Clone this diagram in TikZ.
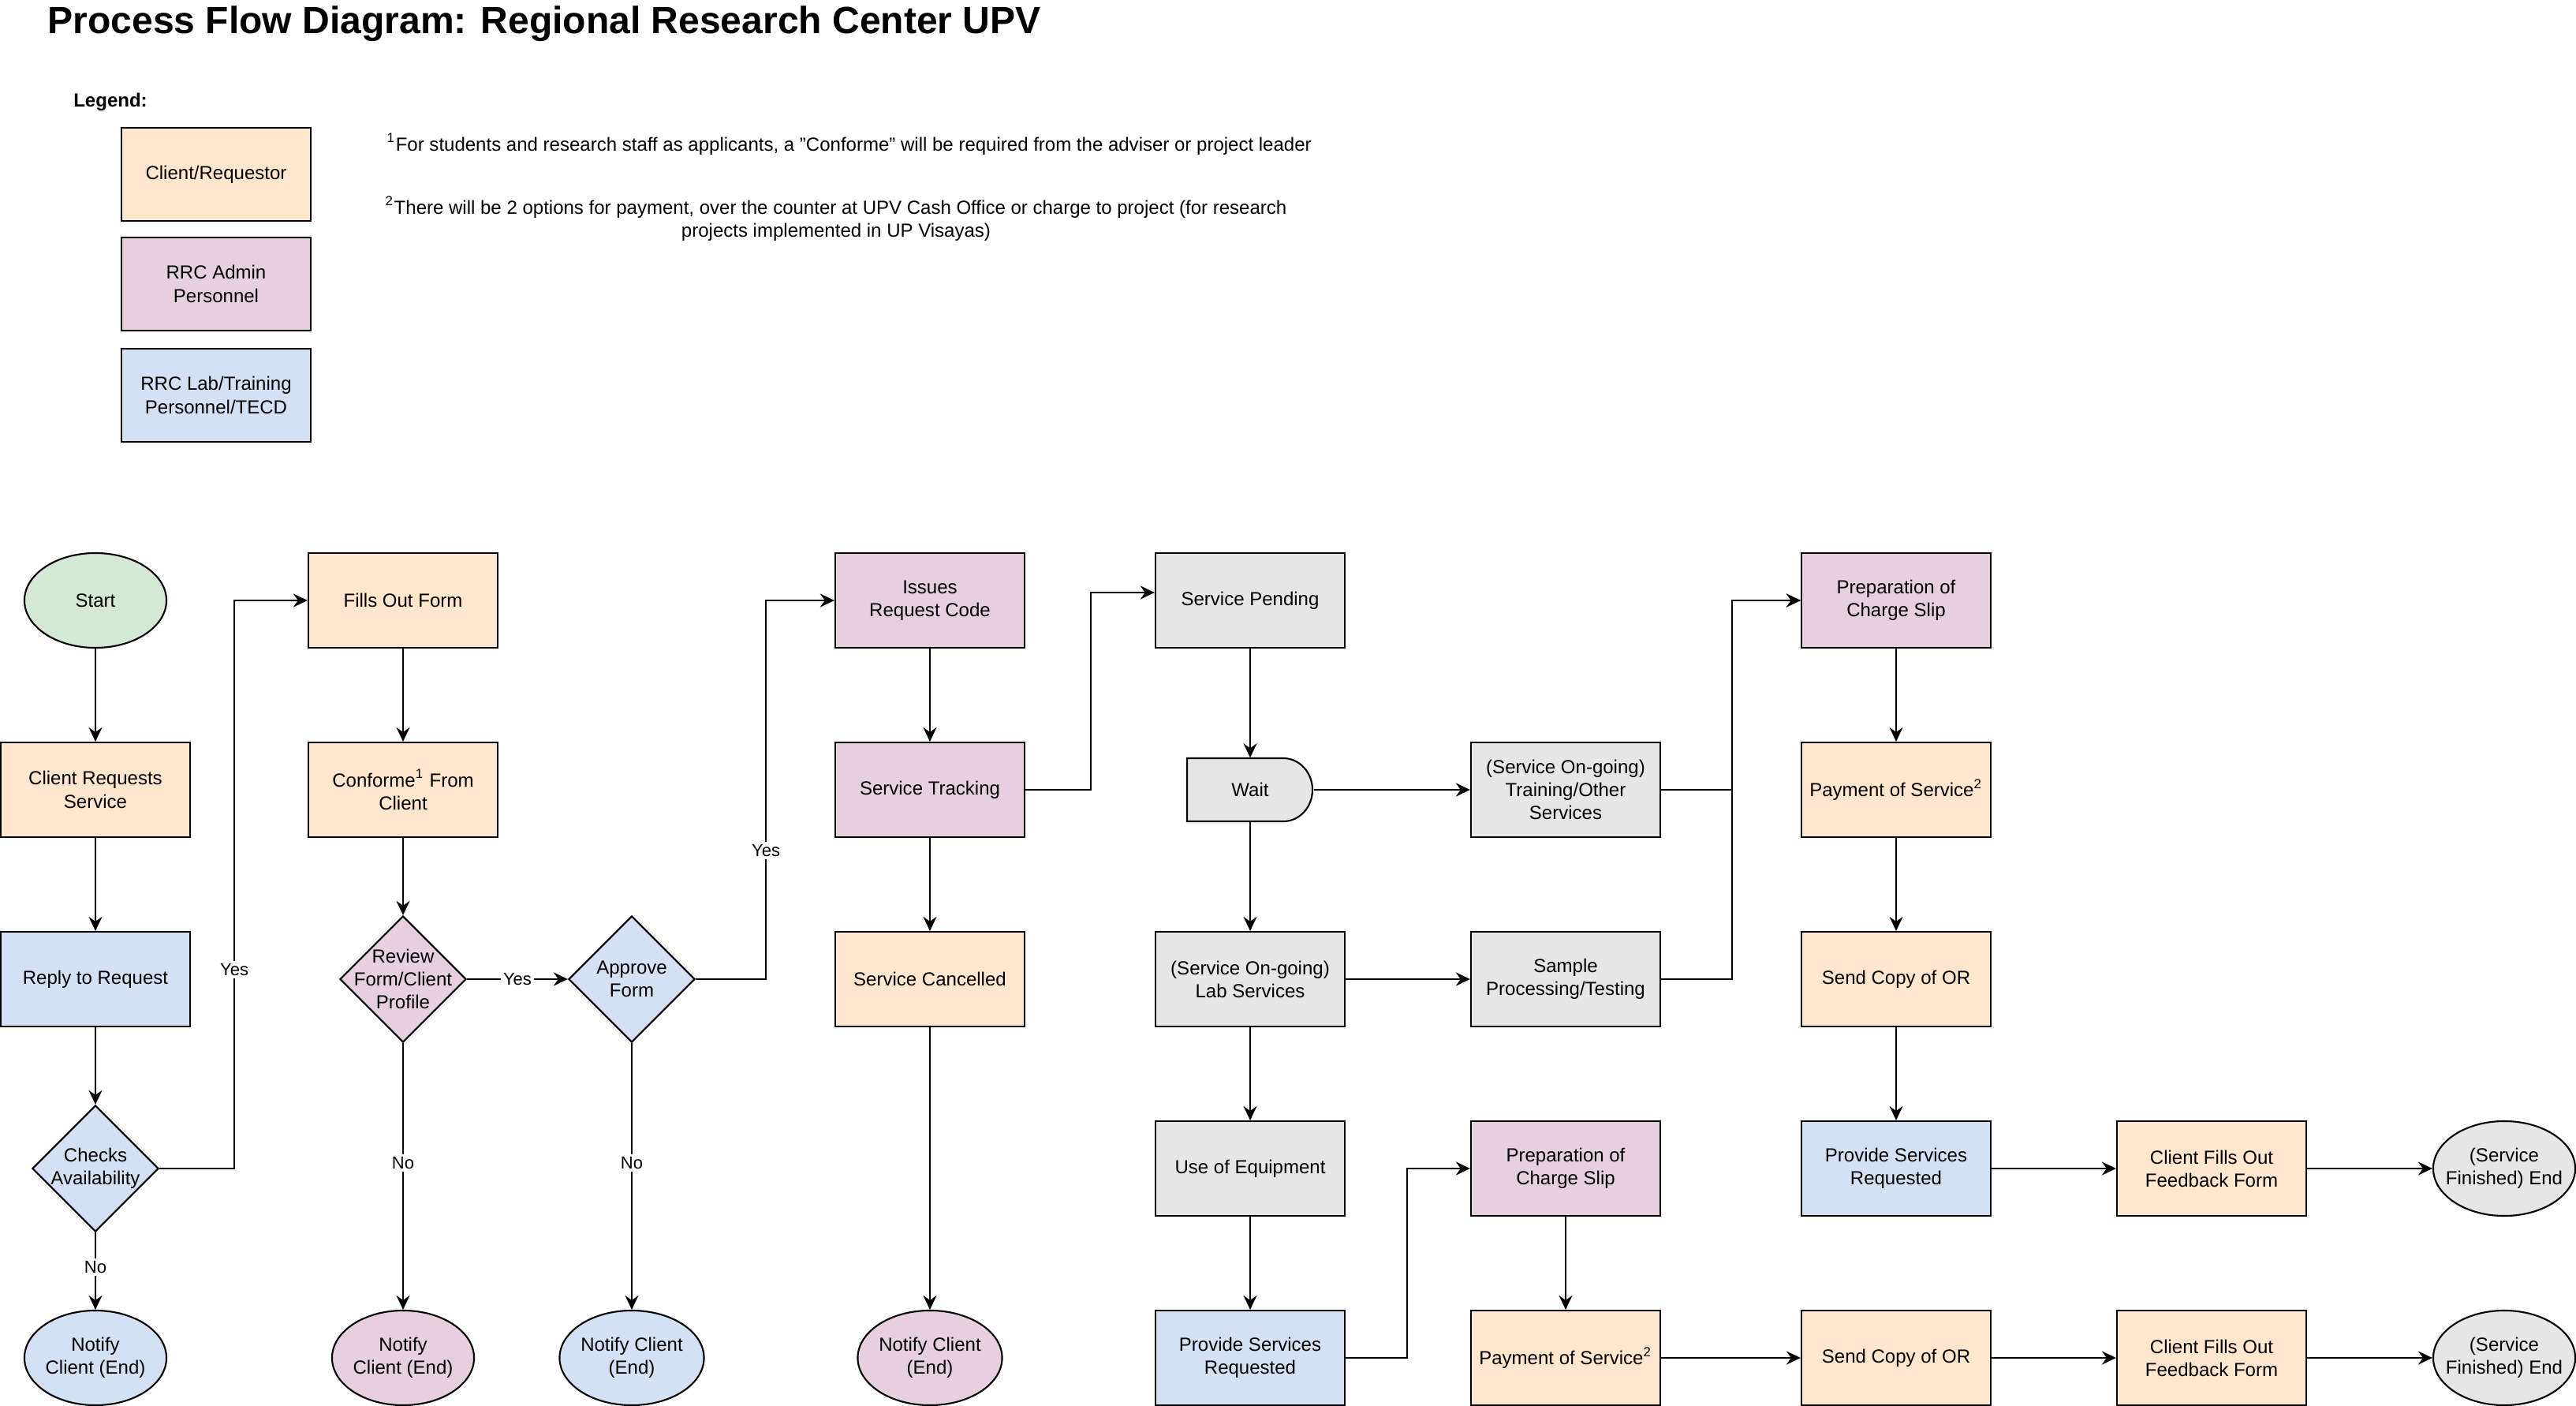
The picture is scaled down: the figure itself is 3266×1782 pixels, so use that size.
\documentclass[tikz,border=0pt]{standalone}
\usepackage{fontspec}
\setmainfont{Liberation Sans}
\usepackage{xcolor}
\usepackage{tikz}
\usetikzlibrary{shapes.geometric,arrows.meta}

\definecolor{clientfill}{HTML}{FFE6CC}
\definecolor{adminfill}{HTML}{E6D0DE}
\definecolor{labfill}{HTML}{D4E1F5}
\definecolor{startfill}{HTML}{D5E8D4}
\definecolor{servfill}{HTML}{E6E6E6}

\newcommand\boxfont{\fontsize{6.83pt}{8.3pt}\selectfont}
\newcommand\edgefont{\fontsize{6.26pt}{7.5pt}\selectfont}

\begin{document}
\begin{tikzpicture}[x=0.01cm, y=-0.01cm,
	base/.style={draw, line width=0.6pt, align=center, font=\boxfont, inner sep=0pt},
	proc/.style={base, rectangle, minimum width=2.4cm, minimum height=1.2cm},
	term/.style={base, ellipse, minimum width=1.8cm, minimum height=1.2cm},
	dec/.style={base, diamond, minimum width=1.6cm, minimum height=1.6cm},
	dectxt/.style={align=center, font=\boxfont, inner sep=0pt},
	client/.style={fill=clientfill}, admin/.style={fill=adminfill},
	lab/.style={fill=labfill}, serv/.style={fill=servfill},
	arr/.style={line width=0.6pt, -{Stealth[length=0.18cm, width=0.17cm, inset=0.06cm]}},
	lbl/.style={fill=white, font=\edgefont, inner sep=1pt}]
	\useasboundingbox (0,0) rectangle (3266,1782);

	% title, legend and notes
	\node[anchor=west, inner sep=0pt, font=\fontsize{13.66pt}{16pt}\selectfont\bfseries] (title) at (60,30) {Process Flow Diagram: Regional Research Center UPV};
	\node[font=\boxfont\bfseries, inner sep=0pt] (legend) at (140,129) {Legend:};
	\node[proc, client, minimum height=1.18cm] (lgclient) at (274,221) {Client/Requestor};
	\node[proc, admin, minimum height=1.18cm] (lgadmin) at (274,360) {RRC Admin\\Personnel};
	\node[proc, lab, minimum height=1.18cm] (lglab) at (274,501) {RRC Lab/Training\\Personnel/TECD};
	\node[anchor=west, font=\boxfont, inner sep=0pt] (note1) at (490,183) {\textsuperscript{1}For students and research staff as applicants, a "Conforme" will be required from the adviser or project leader};
	\node[align=center, font=\boxfont, inner sep=0pt] (note2) at (1060,277) {\textsuperscript{2}There will be 2 options for payment, over the counter at UPV Cash Office or charge to project (for research\\projects implemented in UP Visayas)};

	% request and form
	\node[term, fill=startfill] (start) at (121,761) {Start};
	\node[proc, client] (creq) at (121,1001) {Client Requests\\Service};
	\node[proc, lab] (reply) at (121,1241) {Reply to Request};
	\node[dec, lab, label={[dectxt]center:Checks\\Availability}] (check) at (121,1481) {};
	\node[term, lab] (notifya) at (121,1721) {Notify\\Client (End)};
	\node[proc, client] (fillout) at (511,761) {Fills Out Form};
	\node[proc, client] (conf) at (511,1001) {Conforme\textsuperscript{1} From\\Client};
	\node[dec, admin, label={[dectxt]center:Review\\Form/Client\\Profile}] (review) at (511,1241) {};
	\node[term, admin] (notifyb) at (511,1721) {Notify\\Client (End)};
	\node[dec, lab, label={[dectxt]center:Approve\\Form}] (approve) at (801,1241) {};
	\node[term, lab] (notifyc) at (801,1721) {Notify Client\\(End)};

	% request code and tracking
	\node[proc, admin] (issue) at (1179,761) {Issues\\Request Code};
	\node[proc, admin] (track) at (1179,1001) {Service Tracking};
	\node[proc, client] (cancel) at (1179,1241) {Service Cancelled};
	\node[term, admin] (notifyd) at (1179,1721) {Notify Client\\(End)};

	% services
	\node[proc, serv] (pending) at (1585,761) {Service Pending};
	\draw[line width=0.6pt, fill=servfill] (1505,961) -- (1627,961) arc[start angle=90, end angle=-90, x radius=0.37cm, y radius=0.4cm] -- (1505,1041) -- cycle;
	\node[font=\boxfont, minimum width=1.6cm, minimum height=0.8cm, inner sep=0pt] (wait) at (1585,1001) {Wait};
	\node[proc, serv] (labserv) at (1585,1241) {(Service On-going)\\Lab Services};
	\node[proc, serv] (equip) at (1585,1481) {Use of Equipment};
	\node[proc, lab] (provida) at (1585,1721) {Provide Services\\Requested};
	\node[proc, serv] (train) at (1985,1001) {(Service On-going)\\Training/Other\\Services};
	\node[proc, serv] (sample) at (1985,1241) {Sample\\Processing/Testing};
	\node[proc, admin] (prepa) at (1985,1481) {Preparation of\\Charge Slip};
	\node[proc, client] (paya) at (1985,1721) {Payment of Service\textsuperscript{2}};

	% payment and feedback
	\node[proc, admin] (prepb) at (2404,761) {Preparation of\\Charge Slip};
	\node[proc, client] (payb) at (2404,1001) {Payment of Service\textsuperscript{2}};
	\node[proc, client] (sendb) at (2404,1241) {Send Copy of OR};
	\node[proc, lab] (providb) at (2404,1481) {Provide Services\\Requested};
	\node[proc, client] (senda) at (2404,1721) {Send Copy of OR};
	\node[proc, client] (feedb) at (2804,1481) {Client Fills Out\\Feedback Form};
	\node[proc, client] (feeda) at (2804,1721) {Client Fills Out\\Feedback Form};
	\node[term, serv, inner xsep=-0.2cm] (endb) at (3175,1481) {(Service\\Finished) End};
	\node[term, serv, inner xsep=-0.2cm] (enda) at (3175,1721) {(Service\\Finished) End};

	% connectors
	\draw[arr] (start) -- (creq);
	\draw[arr] (creq) -- (reply);
	\draw[arr] (reply) -- (check);
	\draw[arr] (check) -- node[lbl, pos=0.45]{No} (notifya);
	\draw[arr] (check.east) -- ++(95,0) -- node[lbl, pos=0.35]{Yes} ++(0,-720) -- (fillout.west);
	\draw[arr] (fillout) -- (conf);
	\draw[arr] (conf) -- (review.north);
	\draw[arr] (review) -- node[lbl]{Yes} (approve);
	\draw[arr] (review) -- node[lbl, pos=0.45]{No} (notifyb);
	\draw[arr] (approve) -- node[lbl, pos=0.45]{No} (notifyc);
	\draw[arr] (approve.east) -- ++(89,0) -- node[lbl, pos=0.34]{Yes} ++(0,-480) -- (issue.west);
	\draw[arr] (issue) -- (track);
	\draw[arr] (track) -- (cancel);
	\draw[arr] (cancel) -- (notifyd);
	\draw[arr] (track.east) -- ++(83,0) |- ([yshift=0.1cm]pending.west);
	\draw[arr] (pending) -- (wait);
	\draw[arr] (wait) -- (labserv);
	\draw[arr] (wait) -- (train);
	\draw[arr] (labserv) -- (sample);
	\draw[arr] (labserv) -- (equip);
	\draw[arr] (equip) -- (provida);
	\draw[arr] (train.east) -- ++(90,0) |- (prepb.west);
	\draw[arr] (sample.east) -- ++(90,0) |- (prepb.west);
	\draw[arr] (provida.east) -- ++(78,0) |- (prepa.west);
	\draw[arr] (prepa) -- (paya);
	\draw[arr] (paya) -- (senda);
	\draw[arr] (senda) -- (feeda);
	\draw[arr] (feeda) -- (enda);
	\draw[arr] (prepb) -- (payb);
	\draw[arr] (payb) -- (sendb);
	\draw[arr] (sendb) -- (providb);
	\draw[arr] (providb) -- (feedb);
	\draw[arr] (feedb) -- (endb);
\end{tikzpicture}
\end{document}
